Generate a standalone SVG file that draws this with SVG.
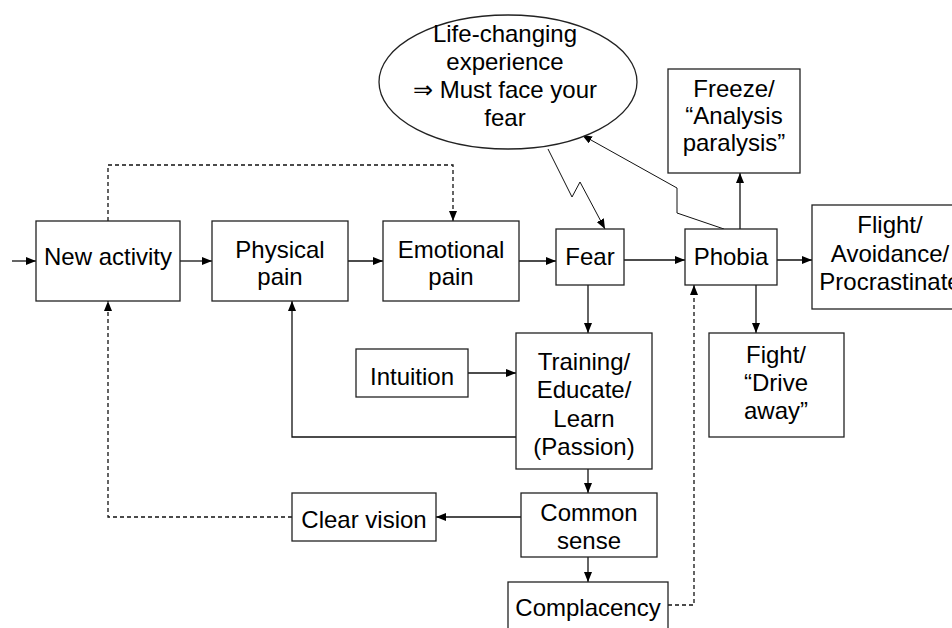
<svg xmlns="http://www.w3.org/2000/svg" width="952" height="628" viewBox="0 0 952 628">
  <defs>
    <marker id="arrow" viewBox="0 0 10 8" refX="10" refY="4" markerWidth="10" markerHeight="8" markerUnits="userSpaceOnUse" orient="auto">
      <path d="M0,0 L10,4 L0,8 Z" fill="#000"/>
    </marker>
    <style>
      .box { fill: #fff; stroke: #222; stroke-width: 1.3; }
      .lbl { font-family: "Liberation Sans", Arial, sans-serif; font-size: 24px; fill: #000; text-anchor: middle; }
      .line { fill: none; stroke: #111; stroke-width: 1.3; }
      .dash { fill: none; stroke: #111; stroke-width: 1.3; stroke-dasharray: 4 3; }
      .bolt { fill: none; stroke: #111; stroke-width: 1; }
    </style>
  </defs>
  <rect width="952" height="628" fill="#fff"/>

  <!-- connectors -->
  <g id="connectors">
    <line class="line" x1="12" y1="261" x2="36" y2="261" marker-end="url(#arrow)"/>
    <line class="line" x1="180" y1="261" x2="212" y2="261" marker-end="url(#arrow)"/>
    <line class="line" x1="348" y1="261" x2="383" y2="261" marker-end="url(#arrow)"/>
    <line class="line" x1="519" y1="261" x2="556" y2="261" marker-end="url(#arrow)"/>
    <line class="line" x1="624" y1="260" x2="685" y2="260" marker-end="url(#arrow)"/>
    <line class="line" x1="777" y1="260" x2="812" y2="260" marker-end="url(#arrow)"/>
    <line class="line" x1="740" y1="229" x2="740" y2="173" marker-end="url(#arrow)"/>
    <line class="line" x1="756" y1="285" x2="756" y2="333" marker-end="url(#arrow)"/>
    <line class="line" x1="588" y1="285" x2="588" y2="333" marker-end="url(#arrow)"/>
    <line class="line" x1="468" y1="373" x2="516" y2="373" marker-end="url(#arrow)"/>
    <polyline class="line" points="516,437 292,437 292,301" marker-end="url(#arrow)"/>
    <line class="line" x1="588" y1="469" x2="588" y2="493" marker-end="url(#arrow)"/>
    <line class="line" x1="521" y1="517" x2="436" y2="517" marker-end="url(#arrow)"/>
    <line class="line" x1="588" y1="557" x2="588" y2="582" marker-end="url(#arrow)"/>
    <polyline class="dash" points="108,221 108,165 453,165 453,221" marker-end="url(#arrow)"/>
    <polyline class="dash" points="292,517 108,517 108,301" marker-end="url(#arrow)"/>
    <polyline class="dash" points="668,605 694,605 694,285" marker-end="url(#arrow)"/>
    <polyline class="bolt" points="548,149 572,197 580,182 605,229" marker-end="url(#arrow)"/>
    <polyline class="bolt" points="724,229 677,213 677,188 582,135" marker-end="url(#arrow)"/>
  </g>

  <g id="life-changing">
    <ellipse class="box" cx="508" cy="82" rx="129" ry="67"/>
    <text class="lbl" x="505" y="42">Life-changing</text>
    <text class="lbl" x="505" y="70">experience</text>
    <text class="lbl" x="505" y="98">⇒ Must face your</text>
    <text class="lbl" x="505" y="126">fear</text>
  </g>

  <g id="new-activity">
    <rect class="box" x="36" y="221" width="144" height="80"/>
    <text class="lbl" x="108" y="265">New activity</text>
  </g>

  <g id="physical-pain">
    <rect class="box" x="212" y="221" width="136" height="80"/>
    <text class="lbl" x="280" y="258">Physical</text>
    <text class="lbl" x="280" y="285">pain</text>
  </g>

  <g id="emotional-pain">
    <rect class="box" x="383" y="221" width="136" height="80"/>
    <text class="lbl" x="451" y="258">Emotional</text>
    <text class="lbl" x="451" y="285">pain</text>
  </g>

  <g id="fear">
    <rect class="box" x="556" y="229" width="68" height="56"/>
    <text class="lbl" x="590" y="265">Fear</text>
  </g>

  <g id="phobia">
    <rect class="box" x="685" y="229" width="92" height="56"/>
    <text class="lbl" x="731" y="265">Phobia</text>
  </g>

  <g id="freeze">
    <rect class="box" x="668" y="69" width="132" height="104"/>
    <text class="lbl" x="734" y="97">Freeze/</text>
    <text class="lbl" x="734" y="124">“Analysis</text>
    <text class="lbl" x="734" y="151">paralysis”</text>
  </g>

  <g id="flight">
    <rect class="box" x="812" y="205" width="156" height="104"/>
    <text class="lbl" x="890" y="233">Flight/</text>
    <text class="lbl" x="890" y="262">Avoidance/</text>
    <text class="lbl" x="890" y="290">Procrastinate</text>
  </g>

  <g id="fight">
    <rect class="box" x="709" y="333" width="135" height="104"/>
    <text class="lbl" x="776" y="363">Fight/</text>
    <text class="lbl" x="776" y="391">“Drive</text>
    <text class="lbl" x="776" y="419">away”</text>
  </g>

  <g id="intuition">
    <rect class="box" x="356" y="349" width="112" height="48"/>
    <text class="lbl" x="412" y="385">Intuition</text>
  </g>

  <g id="training">
    <rect class="box" x="516" y="333" width="136" height="136"/>
    <text class="lbl" x="584" y="370">Training/</text>
    <text class="lbl" x="584" y="398">Educate/</text>
    <text class="lbl" x="584" y="427">Learn</text>
    <text class="lbl" x="584" y="455">(Passion)</text>
  </g>

  <g id="common-sense">
    <rect class="box" x="521" y="493" width="136" height="64"/>
    <text class="lbl" x="589" y="521">Common</text>
    <text class="lbl" x="589" y="549">sense</text>
  </g>

  <g id="clear-vision">
    <rect class="box" x="292" y="493" width="144" height="48"/>
    <text class="lbl" x="364" y="528">Clear vision</text>
  </g>

  <g id="complacency">
    <rect class="box" x="508" y="582" width="160" height="60"/>
    <text class="lbl" x="588" y="616">Complacency</text>
  </g>
</svg>
